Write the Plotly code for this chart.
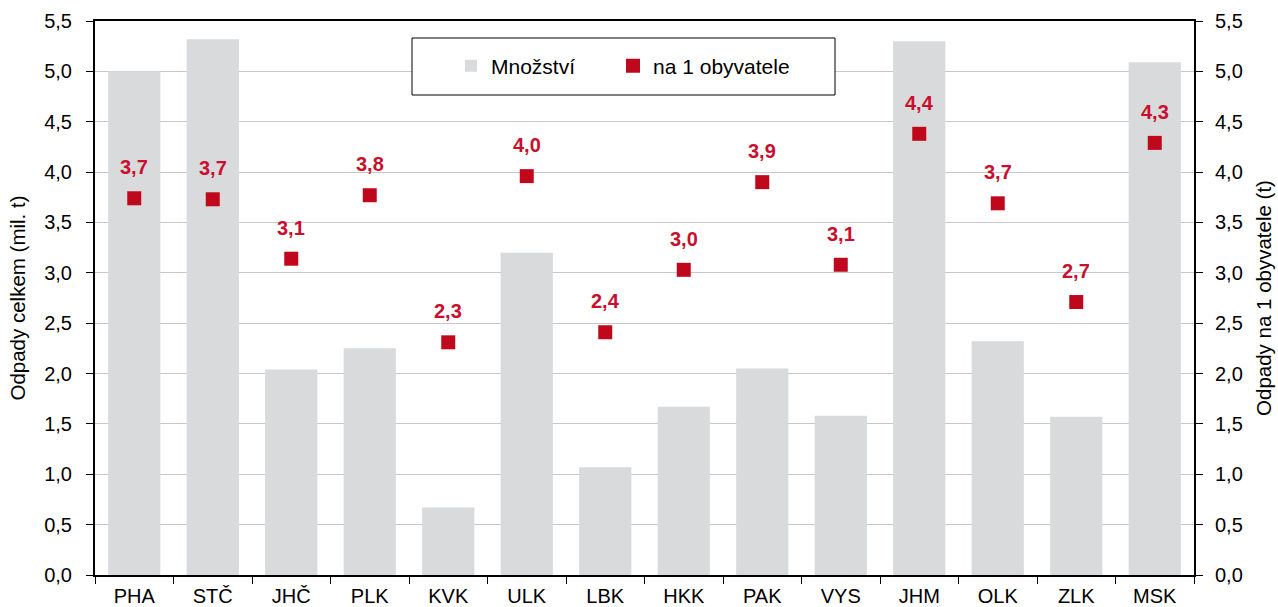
import plotly.graph_objects as go

regions = ["PHA", "STČ", "JHČ", "PLK", "KVK", "ULK", "LBK", "HKK", "PAK", "VYS", "JHM", "OLK", "ZLK", "MSK"]
mnozstvi = [5.00, 5.32, 2.04, 2.25, 0.67, 3.20, 1.07, 1.67, 2.05, 1.58, 5.30, 2.32, 1.57, 5.09]
na_obyvatele = [3.74, 3.73, 3.14, 3.77, 2.31, 3.96, 2.41, 3.03, 3.90, 3.08, 4.38, 3.69, 2.71, 4.29]
y_ticks = [0, 0.5, 1, 1.5, 2, 2.5, 3, 3.5, 4, 4.5, 5, 5.5]

FONT = "Liberation Sans, Arial, sans-serif"
BAR_COLOR = "#d9dadc"
RED = "#c0081c"
LABEL_RED = "#c8102e"
FS = 20

W, H = 1278, 607
ML, MR, MT, MB = 95, 84, 21, 32
PW = W - ML - MR
PH = H - MT - MB

fig = go.Figure()
fig.add_trace(go.Bar(
    x=regions, y=mnozstvi, name="Množství",
    marker=dict(color=BAR_COLOR, line=dict(width=0)),
    yaxis="y", legend="legend",
))
fig.add_trace(go.Scatter(
    x=regions, y=na_obyvatele, name="na 1 obyvatele",
    mode="markers",
    marker=dict(symbol="square", size=14, color=RED),
    yaxis="y2", legend="legend2",
))

for r, v in zip(regions, na_obyvatele):
    fig.add_annotation(
        x=r, y=v, xref="x", yref="y2",
        text=f"{v:.1f}".replace(".", ","),
        showarrow=False, yshift=31,
        font=dict(family=FONT, size=FS, color=LABEL_RED, weight="bold"),
    )

# legend box (page coords 412..835, 38..95)
fig.add_shape(type="rect", xref="paper", yref="paper",
              x0=(412 - ML) / PW, x1=(835 - ML) / PW,
              y0=(H - MB - 95) / PH, y1=(H - MB - 38) / PH,
              line=dict(color="#000000", width=1), fillcolor="white", layer="above")

leg_common = dict(
    orientation="h", yanchor="middle", xanchor="left",
    y=(H - MB - 66) / PH,
    bgcolor="rgba(0,0,0,0)", borderwidth=0,
    font=dict(family=FONT, size=21, color="#000000"),
    itemwidth=30,
)

fig.update_layout(
    width=W, height=H,
    margin=dict(l=ML, r=MR, t=MT, b=MB),
    paper_bgcolor="white", plot_bgcolor="white",
    separators=", ",
    font=dict(family=FONT, size=FS, color="#000000"),
    bargap=0.335,
    showlegend=True,
    legend=dict(x=(451 - ML) / PW, **leg_common),
    legend2=dict(x=(613 - ML) / PW, **leg_common),
    xaxis=dict(
        type="category", range=[-0.5, len(regions) - 0.5],
        showline=True, linecolor="#000000", linewidth=2,
        mirror=True, ticks="outside", ticklen=7, tickcolor="#000000",
        tickson="boundaries", showgrid=False, automargin=False,
        ticklabelstandoff=2,
        tickfont=dict(family=FONT, size=FS),
    ),
    yaxis=dict(
        range=[0, 5.5], tickvals=y_ticks, tickformat=".1f",
        showline=True, linecolor="#000000", linewidth=2,
        ticks="outside", ticklen=7, tickcolor="#000000",
        showgrid=True, gridcolor="#c8c8c8", gridwidth=1,
        zeroline=False, automargin=False,
        ticklabelstandoff=10,
        title=dict(text="Odpady celkem (mil. t)", font=dict(family=FONT, size=20.5), standoff=13),
        tickfont=dict(family=FONT, size=FS),
    ),
    yaxis2=dict(
        range=[0, 5.5], tickvals=y_ticks, tickformat=".1f",
        overlaying="y", side="right",
        showline=True, linecolor="#000000", linewidth=2,
        ticks="outside", ticklen=7, tickcolor="#000000",
        showgrid=False, zeroline=False, automargin=False,
        ticklabelstandoff=8,
        title=dict(text="Odpady na 1 obyvatele (t)", font=dict(family=FONT, size=20.5), standoff=15),
        tickfont=dict(family=FONT, size=FS),
    ),
)

fig.write_html(
    "out.html",
    config={"displayModeBar": False},
    post_script="document.body.style.margin='0';document.body.style.overflow='hidden';",
)
